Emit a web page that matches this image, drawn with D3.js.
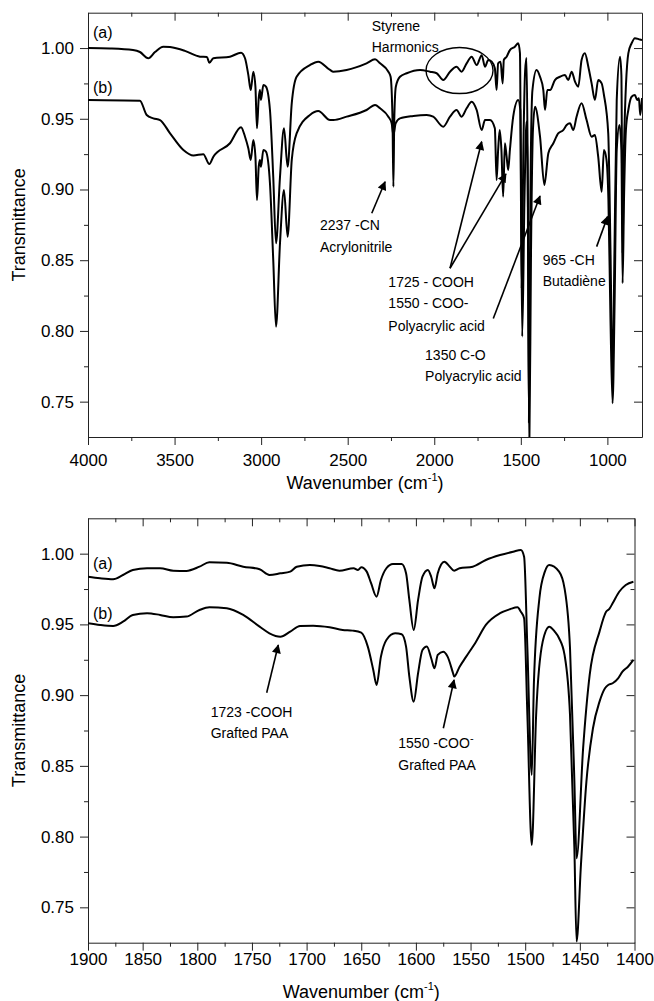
<!DOCTYPE html>
<html>
<head>
<meta charset="utf-8">
<script src="https://cdn.jsdelivr.net/npm/d3@7"></script>
<style>
  body { margin: 0; background: #fff; }
  svg { display: block; }
</style>
</head>
<body>
<svg id="chart" width="654" height="1001"></svg>
<script>
// ---- data (wavenumber cm-1, transmittance) ----
const topTicks = [4000, 3500, 3000, 2500, 2000, 1500, 1000];
const bottomTicks = [1900, 1850, 1800, 1750, 1700, 1650, 1600, 1550, 1500, 1450, 1400];
const transTicks = [0.75, 0.8, 0.85, 0.9, 0.95, 1.0];
const transMinor = [0.775, 0.825, 0.875, 0.925, 0.975];

// full range, sample (a)
const fullA = [
  [4000, 1.0], [3873, 0.9997], [3740, 0.9986], [3700, 0.9972], [3652, 0.9928], [3613, 0.9972],
  [3565, 1.001], [3526, 1.0007], [3440, 0.998], [3353, 0.9939], [3313, 0.9937], [3299, 0.9896],
  [3276, 0.9928], [3180, 0.9939], [3116, 0.9967], [3093, 0.9928], [3074, 0.981], [3060, 0.9703],
  [3045, 0.9833], [3033, 0.9727], [3024, 0.9433], [3014, 0.9645], [3007, 0.9703], [3001, 0.9633],
  [2987, 0.9739], [2972, 0.9727], [2949, 0.9562], [2930, 0.909], [2914, 0.862], [2891, 0.909],
  [2868, 0.9433], [2847, 0.9161], [2823, 0.961], [2795, 0.9797], [2718, 0.988], [2670, 0.9904],
  [2602, 0.9845], [2583, 0.9833], [2506, 0.9845], [2391, 0.9892], [2342, 0.992], [2313, 0.9892],
  [2265, 0.9833], [2252, 0.9797], [2241, 0.949], [2236, 0.902], [2231, 0.949], [2222, 0.9727],
  [2198, 0.9797], [2159, 0.9822], [2082, 0.9845], [2025, 0.9833], [1986, 0.9822], [1948, 0.9774],
  [1909, 0.9833], [1871, 0.9868], [1842, 0.9833], [1813, 0.9892], [1784, 0.9939], [1755, 0.988],
  [1726, 0.995], [1707, 0.9868], [1688, 0.9916], [1668, 0.9904], [1650, 0.9857], [1640, 0.9703],
  [1631, 0.9892], [1617, 0.9904], [1605, 0.975], [1598, 0.9916], [1582, 0.9939], [1563, 0.9986],
  [1534, 1.001], [1515, 1.0034], [1505, 0.9965], [1495, 0.83], [1485, 0.93], [1475, 0.984],
  [1467, 0.993], [1461, 0.93], [1453, 0.735], [1445, 0.89], [1433, 0.97], [1409, 0.9845],
  [1389, 0.9797], [1370, 0.9703], [1360, 0.9562], [1347, 0.9703], [1331, 0.9703], [1303, 0.9774],
  [1274, 0.9797], [1245, 0.9809], [1226, 0.9774], [1206, 0.9833], [1187, 0.9762], [1168, 0.9727],
  [1149, 0.9916], [1130, 0.9963], [1110, 0.9868], [1091, 0.975], [1072, 0.9633], [1053, 0.9774],
  [1033, 0.975], [1020, 0.967], [995, 0.9397], [982, 0.857], [970, 0.765], [959, 0.857],
  [946, 0.9633], [927, 0.9939], [919, 0.981], [912, 0.855], [904, 0.93], [879, 0.9963],
  [860, 1.0034], [841, 1.007], [812, 1.006], [800, 1.0057],
];

// full range, sample (b)
const fullB = [
  [4000, 0.9633], [3700, 0.9628], [3661, 0.9527], [3623, 0.9503], [3584, 0.9491], [3526, 0.9397],
  [3449, 0.9279], [3391, 0.924], [3334, 0.925], [3299, 0.918], [3276, 0.9232], [3180, 0.9327],
  [3116, 0.944], [3093, 0.9373], [3074, 0.9291], [3060, 0.9209], [3045, 0.935], [3033, 0.9232],
  [3024, 0.8926], [3014, 0.9161], [3007, 0.9209], [3001, 0.9161], [2987, 0.9279], [2972, 0.9267],
  [2949, 0.9044], [2930, 0.8501], [2914, 0.803], [2891, 0.862], [2868, 0.8996], [2847, 0.8666],
  [2823, 0.9209], [2795, 0.9397], [2718, 0.9527], [2670, 0.9555], [2602, 0.9491], [2583, 0.9491],
  [2506, 0.9515], [2391, 0.9562], [2342, 0.9597], [2313, 0.9574], [2265, 0.9515], [2246, 0.9468],
  [2236, 0.9385], [2223, 0.9468], [2198, 0.9503], [2121, 0.952], [2044, 0.9527], [2006, 0.9515],
  [1948, 0.9444], [1909, 0.9515], [1871, 0.9562], [1842, 0.9515], [1813, 0.9574], [1784, 0.9621],
  [1755, 0.9562], [1726, 0.942], [1707, 0.9491], [1678, 0.9491], [1650, 0.9433], [1640, 0.9067],
  [1631, 0.9279], [1622, 0.942], [1612, 0.9279], [1602, 0.8949], [1592, 0.9327], [1582, 0.9232],
  [1573, 0.9138], [1563, 0.9279], [1544, 0.9515], [1515, 0.9633], [1503, 0.9562], [1492, 0.796],
  [1479, 0.8925], [1467, 0.948], [1459, 0.8925], [1451, 0.715], [1441, 0.857], [1430, 0.942],
  [1418, 0.9585], [1389, 0.9373], [1364, 0.9032], [1341, 0.9256], [1312, 0.9327], [1284, 0.9397],
  [1255, 0.942], [1235, 0.9456], [1216, 0.9468], [1197, 0.942], [1178, 0.9515], [1149, 0.961],
  [1120, 0.9491], [1091, 0.9373], [1072, 0.9385], [1053, 0.9232], [1033, 0.8984], [1020, 0.9279],
  [1005, 0.9209], [994, 0.8925], [982, 0.8076], [970, 0.7488], [958, 0.822], [946, 0.928],
  [930, 0.9456], [919, 0.928], [912, 0.8337], [904, 0.8925], [893, 0.942], [879, 0.9562],
  [860, 0.9656], [841, 0.9668], [828, 0.9633], [818, 0.9645], [810, 0.9527], [800, 0.9647],
];

// 1900-1400 zoom, sample (a)
const zoomA = [
  [1900, 0.9837], [1889, 0.9826], [1877, 0.9819], [1868, 0.9849], [1859, 0.9885], [1846, 0.9897],
  [1834, 0.9897], [1822, 0.988], [1810, 0.9878], [1798, 0.9908], [1789, 0.9939], [1773, 0.9936],
  [1758, 0.9908], [1743, 0.989], [1734, 0.985], [1724, 0.9861], [1715, 0.9873], [1709, 0.9908],
  [1697, 0.992], [1688, 0.9913], [1679, 0.9897], [1670, 0.988], [1657, 0.9897], [1653, 0.9885],
  [1650, 0.9904], [1645, 0.9873], [1641, 0.9791], [1636, 0.9696], [1632, 0.9814], [1627, 0.9897],
  [1621, 0.9927], [1613, 0.9927], [1609, 0.9861], [1606, 0.9673], [1602, 0.946], [1598, 0.9673],
  [1594, 0.9837], [1589, 0.9885], [1586, 0.9837], [1583, 0.9755], [1580, 0.9861], [1574, 0.9943],
  [1569, 0.9908], [1565, 0.988], [1560, 0.9897], [1548, 0.9908], [1536, 0.9955], [1523, 0.999],
  [1511, 1.0014], [1504, 1.0026], [1501, 0.9979], [1498, 0.9331], [1494, 0.8436], [1492, 0.9095],
  [1487, 0.9685], [1482, 0.9873], [1478, 0.992], [1469, 0.9873], [1464, 0.9755], [1459, 0.9331],
  [1455, 0.8389], [1453, 0.7847], [1447, 0.8625], [1441, 0.9143], [1432, 0.9449], [1426, 0.959],
  [1423, 0.961], [1420, 0.9649], [1414, 0.9731], [1408, 0.9779], [1401, 0.9802],
];

// 1900-1400 zoom, sample (b)
const zoomB = [
  [1900, 0.9508], [1889, 0.9496], [1877, 0.9489], [1868, 0.9519], [1859, 0.9567], [1846, 0.9579],
  [1834, 0.9567], [1822, 0.955], [1810, 0.9555], [1798, 0.9602], [1789, 0.9621], [1773, 0.9614],
  [1758, 0.9567], [1743, 0.9484], [1734, 0.9437], [1724, 0.9413], [1715, 0.9449], [1706, 0.9489],
  [1694, 0.9491], [1679, 0.948], [1667, 0.9461], [1658, 0.9456], [1650, 0.9442], [1644, 0.9343],
  [1639, 0.9178], [1636, 0.9072], [1632, 0.9272], [1627, 0.939], [1619, 0.9437], [1613, 0.943],
  [1609, 0.9343], [1606, 0.9131], [1602, 0.8954], [1598, 0.9155], [1594, 0.9319], [1590, 0.9343],
  [1586, 0.9261], [1583, 0.919], [1580, 0.9284], [1575, 0.9307], [1571, 0.9272], [1566, 0.9155],
  [1565, 0.9131], [1560, 0.9201], [1554, 0.9272], [1545, 0.9378], [1536, 0.9496], [1523, 0.9579],
  [1514, 0.9607], [1507, 0.9621], [1504, 0.959], [1501, 0.9543], [1498, 0.886], [1494, 0.7941],
  [1490, 0.886], [1484, 0.9378], [1478, 0.9484], [1473, 0.9449], [1469, 0.9402], [1464, 0.9284],
  [1459, 0.886], [1455, 0.7918], [1453, 0.7258], [1449, 0.78], [1444, 0.8389], [1438, 0.8766],
  [1432, 0.8954], [1427, 0.9049], [1424, 0.9072], [1420, 0.9084], [1415, 0.9119], [1411, 0.9166],
  [1406, 0.9201], [1401, 0.9249],
];

// annotations, anchored in data units
const topLabels = [
  { text: '(a)', wn: 3971, t: 1.0071, size: 16 },
  { text: '(b)', wn: 3971, t: 0.9682, size: 16 },
  { text: 'Styrene', wn: 2361, t: 1.0121 },
  { text: 'Harmonics', wn: 2361, t: 0.9974 },
  { text: '2237 -CN', wn: 2660, t: 0.8714 },
  { text: 'Acrylonitrile', wn: 2660, t: 0.8558 },
  { text: '1725 - COOH', wn: 2265, t: 0.8313 },
  { text: '1550 - COO-', wn: 2265, t: 0.816 },
  { text: 'Polyacrylic acid', wn: 2265, t: 0.8002 },
  { text: '1350 C-O', wn: 2053, t: 0.7794 },
  { text: 'Polyacrylic acid', wn: 2053, t: 0.7646 },
  { text: '965 -CH', wn: 1374, t: 0.8466 },
  { text: 'Butadiène', wn: 1374, t: 0.8318 },
];
const topArrows = [
  { from: [2361, 0.8832], to: [2284, 0.9055] },
  { from: [1909, 0.8443], to: [1726, 0.9338] },
  { from: [1909, 0.8443], to: [1586, 0.911] },
  { from: [1659, 0.8088], to: [1389, 0.8954] },
  { from: [1062, 0.8596], to: [999, 0.8808] },
];
const bottomLabels = [
  { text: '(a)', wn: 1895.4, t: 0.9892, size: 16 },
  { text: '(b)', wn: 1895.4, t: 0.9538, size: 16 },
  { text: '1723 -COOH', wn: 1787.7, t: 0.8848 },
  { text: 'Grafted PAA', wn: 1787.7, t: 0.8695 },
  { text: '1550 -COO', wn: 1616.1, t: 0.8624, sup: '-' },
  { text: 'Grafted PAA', wn: 1616.1, t: 0.8471 },
];
const bottomArrows = [
  { from: [1736.5, 0.9017], to: [1725.9, 0.9354] },
  { from: [1574.9, 0.8766], to: [1565.1, 0.9107] },
];

const FONT = "'Liberation Sans', Arial, Helvetica, sans-serif";
const svg = d3.select('#chart').attr('font-family', FONT);

svg
  .append('defs')
  .append('marker')
  .attr('id', 'arrowhead')
  .attr('viewBox', '0 0 10 10')
  .attr('refX', 9)
  .attr('refY', 5)
  .attr('markerUnits', 'userSpaceOnUse')
  .attr('markerWidth', 12)
  .attr('markerHeight', 9)
  .attr('orient', 'auto')
  .append('path')
  .attr('d', 'M0,0 L10,5 L0,10 z')
  .attr('fill', '#000');

const drawPanel = (p) => {
  const x = d3.scaleLinear().domain(p.xDomain).range([p.left, p.right]);
  const y = d3.scaleLinear().domain([0.725, 1.025]).range([p.bottom, p.top]);
  const g = svg.append('g').attr('id', p.id);

  g.append('clipPath')
    .attr('id', `clip-${p.id}`)
    .append('rect')
    .attr('x', p.left)
    .attr('y', p.top)
    .attr('width', p.right - p.left)
    .attr('height', p.bottom - p.top);

  const styleAxis = (sel, size) => {
    sel.attr('font-family', FONT).attr('font-size', size);
    sel.selectAll('line').attr('stroke', '#222');
    sel.selectAll('.domain').attr('stroke', '#222');
    sel.selectAll('text').attr('fill', '#000');
  };

  // bottom axis
  g.append('g')
    .attr('transform', `translate(0,${p.bottom})`)
    .call(
      d3.axisBottom(x).tickValues(p.xTicks).tickSize(8).tickSizeOuter(0)
        .tickPadding(p.xPad).tickFormat(d3.format('d'))
    )
    .call((s) => styleAxis(s, 17));
  g.append('g')
    .attr('transform', `translate(0,${p.bottom})`)
    .call(d3.axisBottom(x).tickValues(p.xMinor).tickSize(4).tickFormat(''))
    .call((s) => { s.select('.domain').remove(); styleAxis(s, 17); });

  // top axis, ticks inward
  g.append('g')
    .attr('transform', `translate(0,${p.top})`)
    .call(d3.axisTop(x).tickValues(p.xTicks).tickSize(-8).tickSizeOuter(0).tickFormat(''))
    .call((s) => styleAxis(s, 17));
  g.append('g')
    .attr('transform', `translate(0,${p.top})`)
    .call(d3.axisTop(x).tickValues(p.xMinor).tickSize(-4).tickFormat(''))
    .call((s) => { s.select('.domain').remove(); styleAxis(s, 17); });

  // left axis
  g.append('g')
    .attr('transform', `translate(${p.left},0)`)
    .call(
      d3.axisLeft(y).tickValues(transTicks).tickSize(8).tickSizeOuter(0)
        .tickPadding(6).tickFormat(d3.format('.2f'))
    )
    .call((s) => styleAxis(s, 17));
  g.append('g')
    .attr('transform', `translate(${p.left},0)`)
    .call(d3.axisLeft(y).tickValues(transMinor).tickSize(4).tickFormat(''))
    .call((s) => { s.select('.domain').remove(); styleAxis(s, 17); });

  // right axis, ticks inward
  g.append('g')
    .attr('transform', `translate(${p.right},0)`)
    .call(d3.axisRight(y).tickValues(transTicks).tickSize(-8).tickSizeOuter(0).tickFormat(''))
    .call((s) => styleAxis(s, 17));
  g.append('g')
    .attr('transform', `translate(${p.right},0)`)
    .call(d3.axisRight(y).tickValues(transMinor).tickSize(-4).tickFormat(''))
    .call((s) => { s.select('.domain').remove(); styleAxis(s, 17); });

  // spectra
  const line = d3
    .line()
    .x((d) => x(d[0]))
    .y((d) => y(d[1]))
    .curve(d3.curveMonotoneX);

  g.append('g')
    .attr('clip-path', `url(#clip-${p.id})`)
    .selectAll('path')
    .data(p.series)
    .join('path')
    .attr('fill', 'none')
    .attr('stroke', '#000')
    .attr('stroke-width', 2)
    .attr('stroke-linejoin', 'round')
    .attr('d', line);

  // axis titles
  const title = g
    .append('text')
    .attr('x', (p.left + p.right) / 2)
    .attr('y', p.titleY)
    .attr('text-anchor', 'middle')
    .attr('font-size', 18);
  title.append('tspan').text('Wavenumber (cm');
  title.append('tspan').attr('dy', -8).attr('font-size', 11).text('-1');
  title.append('tspan').attr('dy', 8).text(')');

  g.append('text')
    .attr('transform', `translate(25,${(p.top + p.bottom) / 2}) rotate(-90)`)
    .attr('text-anchor', 'middle')
    .attr('font-size', 18)
    .text('Transmittance');

  // annotations
  p.labels.forEach((l) => {
    const t = g
      .append('text')
      .attr('x', x(l.wn))
      .attr('y', y(l.t))
      .attr('font-size', l.size || 14)
      .text(l.text);
    if (l.sup) {
      t.append('tspan').attr('dy', -6).attr('font-size', 11).text(l.sup);
    }
  });

  g.selectAll('line.arrow')
    .data(p.arrows)
    .join('line')
    .attr('class', 'arrow')
    .attr('x1', (d) => x(d.from[0]))
    .attr('y1', (d) => y(d.from[1]))
    .attr('x2', (d) => x(d.to[0]))
    .attr('y2', (d) => y(d.to[1]))
    .attr('stroke', '#000')
    .attr('stroke-width', 1.6)
    .attr('marker-end', 'url(#arrowhead)');

  if (p.ellipse) {
    g.append('ellipse')
      .attr('cx', x(p.ellipse.wn))
      .attr('cy', y(p.ellipse.t))
      .attr('rx', 33.5)
      .attr('ry', 23)
      .attr('fill', 'none')
      .attr('stroke', '#000')
      .attr('stroke-width', 1.4);
  }
};

drawPanel({
  id: 'full',
  left: 88,
  right: 642,
  top: 12.7,
  bottom: 437,
  xDomain: [4000, 800],
  xTicks: topTicks,
  xMinor: d3.range(3750, 800, -500),
  xPad: 9,
  titleY: 489,
  series: [fullA, fullB],
  labels: topLabels,
  arrows: topArrows,
  ellipse: { wn: 1854, t: 0.9841 },
});

drawPanel({
  id: 'zoom',
  left: 88,
  right: 634.5,
  top: 518.3,
  bottom: 942.7,
  xDomain: [1900, 1400],
  xTicks: bottomTicks,
  xMinor: d3.range(1875, 1400, -50),
  xPad: 2,
  titleY: 998,
  series: [zoomA, zoomB],
  labels: bottomLabels,
  arrows: bottomArrows,
});
</script>
</body>
</html>
